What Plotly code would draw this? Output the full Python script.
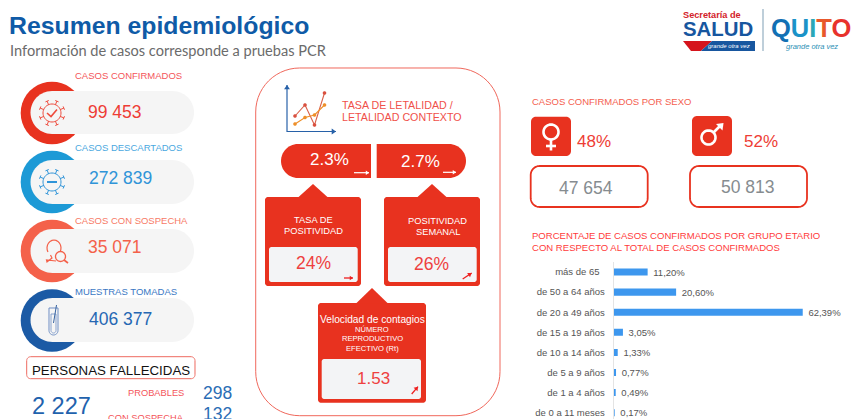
import math
import plotly.graph_objects as go

W, H = 853, 419
age_groups = ["más de 65\u00a0\u00a0", "de 50 a 64 años", "de 20 a 49 años", "de 15 a 19 años",
              "de 10 a 14 años", "de 5 a 9 años", "de 1 a 4 años", "de 0 a 11 meses"]
age_values = [11.20, 20.60, 62.39, 3.05, 1.33, 0.77, 0.49, 0.17]
age_labels = ["11,20%", "20,60%", "62,39%", "3,05%", "1,33%", "0,77%", "0,49%", "0,17%"]
kpi_names = ["CASOS CONFIRMADOS", "CASOS DESCARTADOS", "CASOS CON SOSPECHA", "MUESTRAS TOMADAS"]
kpi_values = ["99 453", "272 839", "35 071", "406 377"]
deaths_total = "2 227"
deaths_probable = "298"
deaths_suspected = "132"
lethality = ["2.3%", "2.7%"]
positivity = ["24%", "26%"]
rt_value = "1.53"
sex_share = ["48%", "52%"]
sex_cases = ["47 654", "50 813"]

RED = "#e8321f"
BLUE = "#0f5ba7"
SANS = "Liberation Sans"
shapes, notes = [], []


def X(p):
    return p / W


def Y(p):
    return 1 - p / H


def path_of(points, close=False):
    s = "M " + " L ".join(f"{X(a):.5f},{Y(b):.5f}" for a, b in points)
    return s + (" Z" if close else "")


def poly(points, fill=None, line=None, lw=1, close=True):
    shapes.append(dict(type="path", xref="paper", yref="paper", path=path_of(points, close),
                       fillcolor=fill or "rgba(0,0,0,0)",
                       line=dict(color=line or "rgba(0,0,0,0)", width=lw if line else 0)))


def arc(cx, cy, rx, ry, a0, a1, n=14):
    return [(cx + rx * math.cos(math.radians(a0 + (a1 - a0) * i / n)),
             cy + ry * math.sin(math.radians(a0 + (a1 - a0) * i / n))) for i in range(n + 1)]


def rrect(x0, y0, x1, y1, tl, tr=None, br=None, bl=None, fill=None, line=None, lw=1):
    tr = tl if tr is None else tr
    br = tl if br is None else br
    bl = tl if bl is None else bl
    pts = []
    pts += arc(x0 + tl, y0 + tl, tl, tl, 180, 270) if tl else [(x0, y0)]
    pts += arc(x1 - tr, y0 + tr, tr, tr, 270, 360) if tr else [(x1, y0)]
    pts += arc(x1 - br, y1 - br, br, br, 0, 90) if br else [(x1, y1)]
    pts += arc(x0 + bl, y1 - bl, bl, bl, 90, 180) if bl else [(x0, y1)]
    poly(pts, fill, line, lw)


def circle(cx, cy, r, fill=None, line=None, lw=1):
    poly(arc(cx, cy, r, r, 0, 360, 40), fill, line, lw)


def seg(a, b, color, lw=1):
    poly([a, b], None, color, lw, close=False)


def text(x, y, s, size, color, anchor="center", font=SANS, bold=False, italic=False):
    t = f"<b>{s}</b>" if bold else s
    t = f"<i>{t}</i>" if italic else t
    dx = {"left": -1, "right": 1, "center": 0}[anchor]
    notes.append(dict(x=X(x + dx), y=Y(y), xref="paper", yref="paper", text=t, showarrow=False,
                      xanchor=anchor, yanchor="middle", align=anchor,
                      font=dict(size=size, color=color, family=font), borderpad=0))


def arrow(a, b, color, lw=1, head=3):
    seg(a, b, color, lw)
    ang = math.atan2(b[1] - a[1], b[0] - a[0])
    p1 = (b[0] - head * 1.3 * math.cos(ang - 0.6), b[1] - head * 1.3 * math.sin(ang - 0.6))
    p2 = (b[0] - head * 1.3 * math.cos(ang + 0.6), b[1] - head * 1.3 * math.sin(ang + 0.6))
    poly([b, p1, p2], color)


def virus(cx, cy, color):
    circle(cx, cy, 9, None, color, 1)
    for k in range(8):
        a = math.radians(k * 45 + 22.5)
        ux, uy = math.cos(a), math.sin(a)
        seg((cx + 9 * ux, cy + 9 * uy), (cx + 12.8 * ux, cy + 12.8 * uy), color, 1)
        seg((cx + 12.8 * ux - 1.8 * uy, cy + 12.8 * uy + 1.8 * ux),
            (cx + 12.8 * ux + 1.8 * uy, cy + 12.8 * uy - 1.8 * ux), color, 1)


# Header
text(9, 25, "Resumen epidemiológico", 24.8, BLUE, "left", bold=True)
text(10, 50, "Información de casos corresponde a pruebas PCR", 14.6, "#6b6b6b", "left", "Lato")

# Logo
text(683, 15, "Secretaría de", 9.2, "#d3222a", "left", bold=True)
text(683, 29, "SALUD", 20.4, "#17569f", "left", bold=True)
poly([(683, 41), (712, 41), (701, 51), (691, 51)], "#d5141c")
poly([(712, 41), (755, 41), (755, 51), (701, 51)], "#17569f")
text(729, 46, "grande otra vez", 6, "#ffffff", "center", italic=True)
seg((763, 9), (763, 51), "#7f9fb5", 1)
quito = "".join(f'<span style="color:{c}">{ch}</span>' for ch, c in
                [("Q", "#1270b4"), ("U", "#1a93c8"), ("I", "#2aa7b8"), ("T", "#e8582c"), ("O", "#e8322c")])
text(771, 28, quito, 25.5, "#1270b4", "left", bold=True)
text(812, 46, "grande otra vez", 7.5, "#2a8fb5", "center", italic=True)

# KPI column
kpi_colors = ["#e8321f", "#1d9ad6", "#f4614a", "#1b5aa5"]
kpi_text = ["#ee3d35", "#2f94d8", "#f4614a", "#2667b3"]
kpi_label = ["#f4555a", "#4aa8e0", "#f77a66", "#3a78c4"]
cy_list = [113, 182, 251, 320.5]
py = [(91, 134), (160, 204), (229, 273), (298, 342)]
ly = [75, 147, 220, 291]
vy = [112, 178, 247, 319]
vx = [115, 120, 115, 120]
for i in range(4):
    circle(52, cy_list[i], 31.3, kpi_colors[i])
    a, b = py[i]
    rrect(30.5, a, 194, b, (b - a) / 2, fill="#f5f5f5")
    text(75, ly[i], kpi_names[i], 9.5, kpi_label[i], "left")
    text(vx[i], vy[i], kpi_values[i], 17.5, kpi_text[i])

virus(52, 113, "#ee4a3c")
poly([(47, 113), (51, 116.5), (57, 109.5)], None, "#ee4a3c", 1.6, close=False)
virus(52, 182, "#2f94d8")
seg((47, 182), (57, 182), "#2f94d8", 2)
# person + magnifier
poly(arc(54, 248, 7, 8, 150, 390, 14) + [(57, 256)], None, "#f4614a", 1.2, close=False)
poly([(50.5, 255), (52, 258), (47, 262), (46.5, 260), (56, 261)], None, "#f4614a", 1.2, close=False)
circle(60.5, 256.5, 5, "#f5f5f5", "#f4614a", 1.3)
seg((64, 260), (68, 263), "#f4614a", 1.6)
# tube
rrect(49, 308, 58, 335, 0, 0, 4.5, 4.5, None, "#6f8fc4", 1)
rrect(51, 314, 56, 333, 0, 0, 2.5, 2.5, None, "#6f8fc4", 0.8)
seg((53.5, 323), (56.5, 305), "#35629f", 1)

# Deaths
rrect(26.7, 356.7, 195, 378.7, 4, fill="#ffffff", line="#ee6a60", lw=1)
text(111, 370, "PERSONAS FALLECIDAS", 13.3, "#111111")
text(61, 406, deaths_total, 23.5, "#1f62ad")
text(184, 393, "PROBABLES", 9.3, "#f4555a", "right")
text(184, 418, "CON SOSPECHA", 9.3, "#f4555a", "right")
text(217, 393, deaths_probable, 17.5, "#2a6db5")
text(217, 414, deaths_suspected, 17.5, "#2a6db5")

# Middle panel
rrect(255.7, 68, 500, 415.7, 44, fill="#ffffff", line="#f0685c", lw=1)
arrow((287, 132), (287, 85), "#2761a8", 1.2, 4)
arrow((287, 131.5), (336, 131.5), "#2761a8", 1.2, 4)
lr = [(295, 116), (305, 105), (314.5, 125), (324.5, 93)]
lo = [(295, 124), (305, 117.5), (314.5, 115), (324.5, 105)]
poly(lr, None, "#d9604a", 1.1, close=False)
poly(lo, None, "#ee8f2a", 1.1, close=False)
for p in lr:
    circle(p[0], p[1], 1.8, "#d9503f")
for p in lo:
    circle(p[0], p[1], 1.8, "#ee8f2a")
text(342, 105, "TASA DE LETALIDAD /", 10.7, "#f0504a", "left")
text(342, 117, "LETALIDAD CONTEXTO", 10.7, "#f0504a", "left")

rrect(281, 144, 371, 178, 17, 0, 0, 17, fill=RED)
rrect(376.7, 144, 466, 178, 0, 17, 17, 0, fill=RED)
text(329, 160, lethality[0], 17, "#ffffff")
text(420, 161, lethality[1], 17, "#ffffff")
arrow((354, 172.7), (369, 172.7), "#ffffff", 1.2, 3)
arrow((443, 172.3), (456, 172.3), "#ffffff", 1.2, 3)


def card(x0, y0, x1, y1, peak_x, peak_y, half, ix0, iy0, ix1, iy1):
    rrect(x0, y0, x1, y1, 3, fill=RED)
    poly([(peak_x - half, y0 + 0.5), (peak_x, peak_y), (peak_x + half, y0 + 0.5)], RED)
    rrect(ix0, iy0, ix1, iy1, 2.5, fill="#f3f4f6")


card(265, 197, 361, 286, 313, 184, 15, 269, 247, 357.7, 282)
card(384, 197, 480, 286, 432, 184, 15, 388, 247, 476.7, 282)
card(318, 303, 426, 402.7, 372, 288, 16, 321.7, 359, 421, 399)
text(313, 220, "TASA DE", 9.3, "#ffffff")
text(313, 231, "POSITIVIDAD", 9.3, "#ffffff")
text(437.7, 221, "POSITIVIDAD", 9.3, "#ffffff")
text(437.7, 232, "SEMANAL", 9.3, "#ffffff")
text(313, 263, positivity[0], 17.5, "#ee4040")
text(432, 264, positivity[1], 17.5, "#ee4040")
text(372, 319, "Velocidad de contagios", 10.2, "#ffffff")
text(372, 329, "NÚMERO", 7.6, "#ffffff")
text(372, 338.7, "REPRODUCTIVO", 7.6, "#ffffff")
text(372, 348, "EFECTIVO (Rt)", 7.6, "#ffffff")
text(373, 378, rt_value, 17, "#ee4040")
arrow((344, 278), (353, 278), "#ee2020", 1.3, 3)
arrow((462.7, 279), (471.7, 273), "#ee2020", 1.3, 3.5)
arrow((411.7, 394), (418, 386.7), "#ee2020", 1.3, 3.5)

# Sex
text(532, 101, "CASOS CONFIRMADOS POR SEXO", 9.5, "#f4604f", "left")
rrect(531, 116.7, 571, 156, 5, fill=RED)
rrect(692, 116, 732, 156, 5, fill=RED)
circle(551, 132, 7.5, None, "#ffffff", 2.6)
seg((551, 139.5), (551, 150.5), "#ffffff", 2.6)
seg((546, 146), (556, 146), "#ffffff", 2.6)
circle(708.5, 137.5, 7, None, "#ffffff", 2.6)
seg((713.5, 132.5), (721, 125), "#ffffff", 2.6)
poly([(723.5, 123), (716, 124), (722.5, 130.5)], "#ffffff")
text(594, 141, sex_share[0], 17, "#ee3d35")
text(761, 141, sex_share[1], 17, "#ee3d35")
rrect(530.7, 166, 647.7, 207, 9, fill="#ffffff", line=RED, lw=1.8)
rrect(690, 166, 807, 207, 9, fill="#ffffff", line=RED, lw=1.8)
text(586, 188, sex_cases[0], 17.5, "#868c90")
text(748, 187, sex_cases[1], 17.5, "#868c90")

# Age chart heading
text(532, 235.7, "PORCENTAJE DE CASOS CONFIRMADOS POR GRUPO ETARIO", 9.55, "#ff3b3b", "left")
text(532, 247.7, "CON RESPECTO AL TOTAL DE CASOS CONFIRMADOS", 9.55, "#ff3b3b", "left")

fig = go.Figure(go.Bar(
    y=age_groups, x=age_values, orientation="h", marker=dict(color="#3d97ee", line=dict(width=0)),
    text=age_labels, texttemplate="\u00a0%{text}", textposition="outside", cliponaxis=False,
    constraintext="none", hoverinfo="skip",
    textfont=dict(size=9.5, color="#555555", family=SANS),
))
fig.update_layout(
    width=W, height=H, margin=dict(l=0, r=0, t=0, b=0), autosize=False,
    paper_bgcolor="#ffffff", plot_bgcolor="rgba(0,0,0,0)", showlegend=False, bargap=0.65,
    shapes=shapes, annotations=notes,
    xaxis=dict(domain=[613.7 / W, 1], range=[0, (W - 613.7) / 3.03], visible=False, fixedrange=True),
    yaxis=dict(domain=[0, (H - 262) / H], range=[-0.314, 7.5], categoryorder="array",
               categoryarray=age_groups[::-1], showgrid=False, showline=True, linecolor="#e4e4e4",
               linewidth=1, ticks="outside", ticklen=6, tickcolor="rgba(0,0,0,0)",
               tickfont=dict(size=9.5, color="#555555", family=SANS),
               automargin=False, fixedrange=True),
)
fig.write_html("out.html", config=dict(displayModeBar=False),
               post_script="document.body.style.margin='0';document.body.style.overflow='hidden';")
